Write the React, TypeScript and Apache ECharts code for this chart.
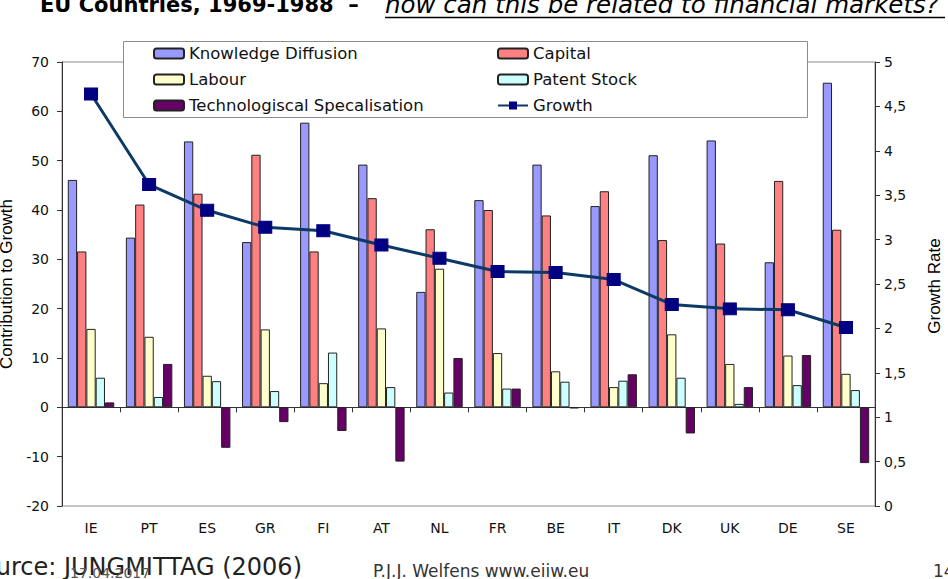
import React, { useEffect, useRef } from "react";
import * as echarts from "echarts";

// Country codes along the category axis
const countries = ["IE", "PT", "ES", "GR", "FI", "AT", "NL", "FR", "BE", "IT", "DK", "UK", "DE", "SE"];

// Contributions to growth (left axis)
const knowledgeDiffusion = [46.1, 34.4, 53.9, 33.5, 57.7, 49.2, 23.4, 42.0, 49.2, 40.8, 51.1, 54.1, 29.4, 65.8];
const capital = [31.6, 41.1, 43.3, 51.2, 31.6, 42.4, 36.1, 40.0, 38.9, 43.8, 33.9, 33.2, 45.9, 36.0];
const labour = [15.9, 14.3, 6.4, 15.8, 4.9, 16.0, 28.1, 11.0, 7.3, 4.1, 14.8, 8.8, 10.5, 6.8];
const patentStock = [6.0, 2.1, 5.3, 3.3, 11.1, 4.1, 3.0, 3.8, 5.2, 5.4, 6.0, 0.7, 4.5, 3.5];
const techSpecialisation = [1.0, 8.8, -8.2, -3.0, -4.8, -11.0, 10.0, 3.8, -0.2, 6.7, -5.3, 4.1, 10.6, -11.3];

// Growth rate (right axis)
const growthRate = [4.64, 3.62, 3.33, 3.14, 3.1, 2.94, 2.79, 2.64, 2.63, 2.55, 2.27, 2.22, 2.21, 2.01];

// Axis ranges
const leftMin = -20;
const leftMax = 70;
const leftStep = 10;
const rightMin = 0;
const rightMax = 5;
const rightStep = 0.5;

const SANS = "DejaVu Sans";
const ARIAL = "Liberation Sans";

const barSeries = (name: string, data: number[], color: string) => ({
  name,
  type: "bar",
  data,
  xAxisIndex: 0,
  yAxisIndex: 0,
  barGap: "0%",
  barCategoryGap: "20%",
  itemStyle: { color, borderColor: "#222", borderWidth: 1 },
});

export default function App() {
  const ref = useRef<HTMLDivElement>(null);

  useEffect(() => {
    document.body.style.margin = "0";
    if (!ref.current) return;
    const chart = echarts.init(ref.current, undefined, { renderer: "svg" });

    const legendText = { fontFamily: SANS, fontSize: 16.5, color: "#111", lineHeight: 16 };
    const tickText = { fontFamily: SANS, fontSize: 14, color: "#111" };

    chart.setOption({
      animation: false,
      backgroundColor: "#fff",
      grid: {
        left: 62,
        right: 73,
        top: 62,
        bottom: 73,
        show: true,
        borderColor: "#8c8c8c",
        borderWidth: 1,
        backgroundColor: "transparent",
      },
      legend: [
        {
          data: ["Knowledge Diffusion", "Labour", "Technologiscal Specalisation"],
          orient: "vertical",
          left: 153,
          top: 45,
          padding: 0,
          itemGap: 9,
          itemWidth: 30,
          itemHeight: 10,
          textStyle: legendText,
          z: 5,
        },
        {
          data: ["Capital", "Patent Stock", "Growth"],
          orient: "vertical",
          left: 497,
          top: 45,
          padding: 0,
          itemGap: 9,
          itemWidth: 30,
          itemHeight: 10,
          textStyle: legendText,
          z: 5,
        },
      ],
      xAxis: [
        {
          type: "category",
          data: countries,
          position: "bottom",
          axisLine: { show: true, onZero: true, lineStyle: { color: "#333", width: 1 } },
          axisTick: { show: true, length: 5, lineStyle: { color: "#333" } },
          axisLabel: { show: false },
          splitLine: { show: false },
        },
        {
          type: "category",
          data: countries,
          position: "bottom",
          axisLine: { show: false, onZero: false },
          axisTick: { show: false },
          axisLabel: { margin: 15, ...tickText },
          splitLine: { show: false },
        },
      ],
      yAxis: [
        {
          type: "value",
          position: "left",
          min: leftMin,
          max: leftMax,
          interval: leftStep,
          axisLine: { show: true, lineStyle: { color: "#333" } },
          axisTick: { show: true, length: 5, lineStyle: { color: "#333" } },
          axisLabel: { margin: 13, ...tickText },
          splitLine: { show: false },
        },
        {
          type: "value",
          position: "right",
          min: rightMin,
          max: rightMax,
          interval: rightStep,
          axisLine: { show: true, lineStyle: { color: "#333" } },
          axisTick: { show: true, length: 5, lineStyle: { color: "#333" } },
          axisLabel: {
            margin: 9,
            ...tickText,
            formatter: (v: number) => String(v).replace(".", ","),
          },
          splitLine: { show: false },
        },
      ],
      series: [
        barSeries("Knowledge Diffusion", knowledgeDiffusion, "#9999ff"),
        barSeries("Capital", capital, "#ff8080"),
        barSeries("Labour", labour, "#ffffcc"),
        barSeries("Patent Stock", patentStock, "#ccffff"),
        barSeries("Technologiscal Specalisation", techSpecialisation, "#660066"),
        {
          name: "Growth",
          type: "line",
          data: growthRate,
          xAxisIndex: 0,
          yAxisIndex: 1,
          symbol: "rect",
          symbolSize: [13, 12],
          lineStyle: { color: "#0b3a66", width: 3 },
          itemStyle: { color: "#000080", borderColor: "#000080" },
          z: 6,
        },
      ],
      graphic: [
        // legend frame
        {
          type: "rect",
          z: 3,
          shape: { x: 123.5, y: 41.5, width: 684, height: 76 },
          style: { fill: "#fff", stroke: "#8c8c8c", lineWidth: 1 },
        },
        // axis names
        {
          type: "text",
          x: 6,
          y: 284,
          rotation: Math.PI / 2,
          style: {
            text: "Contribution to Growth",
            fontFamily: ARIAL,
            fontSize: 17,
            fill: "#000",
            align: "center",
            verticalAlign: "middle",
          },
        },
        {
          type: "text",
          x: 934,
          y: 286,
          rotation: Math.PI / 2,
          style: {
            text: "Growth Rate",
            fontFamily: ARIAL,
            fontSize: 17,
            fill: "#000",
            align: "center",
            verticalAlign: "middle",
          },
        },
        // slide heading
        {
          type: "text",
          x: 40,
          y: 5,
          style: {
            text: "EU Countries, 1969-1988  –",
            fontFamily: SANS,
            fontWeight: "bold",
            fontSize: 21,
            fill: "#000",
            align: "left",
            verticalAlign: "middle",
          },
        },
        {
          type: "text",
          x: 385,
          y: 4.5,
          style: {
            text: "how can this be related to financial markets?",
            fontFamily: SANS,
            fontStyle: "italic",
            fontSize: 24.5,
            fill: "#000",
            align: "left",
            verticalAlign: "middle",
          },
        },
        {
          type: "line",
          shape: { x1: 385, y1: 17.5, x2: 945, y2: 17.5 },
          style: { stroke: "#000", lineWidth: 1.5 },
        },
        // footer
        {
          type: "text",
          x: 302,
          y: 566.6,
          style: {
            text: "Source: JUNGMITTAG (2006)",
            fontFamily: SANS,
            fontSize: 24,
            fill: "#222",
            align: "right",
            verticalAlign: "middle",
          },
        },
        {
          type: "text",
          x: 70,
          y: 573,
          style: {
            text: "17.04.2017",
            fontFamily: SANS,
            fontSize: 14,
            fill: "#555",
            align: "left",
            verticalAlign: "middle",
          },
        },
        {
          type: "text",
          x: 373,
          y: 571,
          style: {
            text: "P.J.J. Welfens www.eiiw.eu",
            fontFamily: SANS,
            fontSize: 17,
            fill: "#333",
            align: "left",
            verticalAlign: "middle",
          },
        },
        {
          type: "text",
          x: 933,
          y: 571,
          style: {
            text: "14",
            fontFamily: SANS,
            fontSize: 17,
            fill: "#333",
            align: "left",
            verticalAlign: "middle",
          },
        },
      ],
    });

    return () => chart.dispose();
  }, []);

  return <div ref={ref} style={{ width: 948, height: 579 }} />;
}
